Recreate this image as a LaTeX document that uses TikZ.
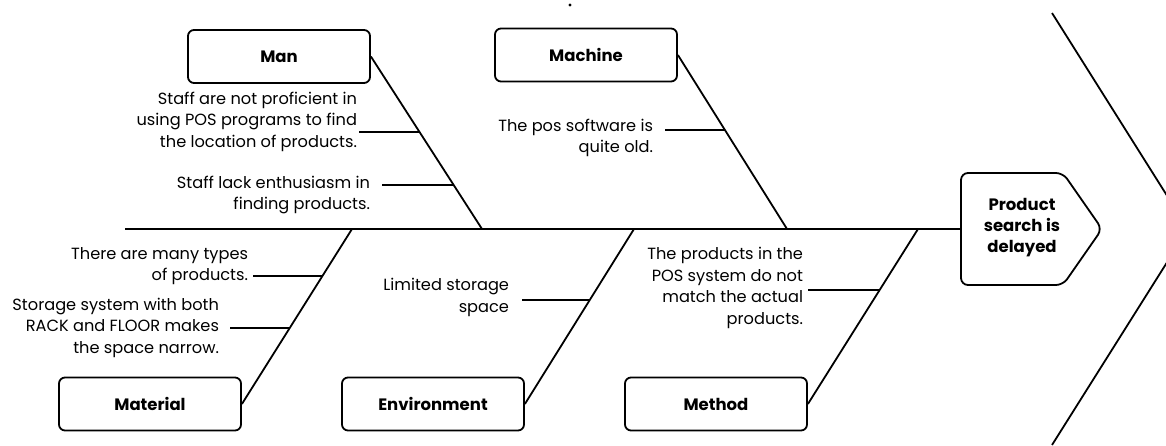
\documentclass[tikz,border=0pt]{standalone}
\usepackage{fontspec}
\setmainfont{Poppins}
\usetikzlibrary{calc, positioning}

\tikzset{
    bone/.style={line width=1.8pt},
    catbox/.style={draw, line width=1.8pt, rounded corners=6pt, minimum width=182pt, minimum height=53pt, font=\bfseries\fontsize{16.5}{20}\selectfont},
    cause/.style={align=right, anchor=east, inner sep=0pt, outer xsep=#1, font=\fontsize{16.2}{21.5}\selectfont},
    cause/.default=2pt
}

\begin{document}
\begin{tikzpicture}[x=1pt, y=-1pt]
    \useasboundingbox (0,0) rectangle (1166,446);
    \clip (0,0) rectangle (1166,446);

    \node[catbox] (man) at (279, 56.5) {Man};
    \node[catbox] (machine) at (586, 55) {Machine};
    \node[catbox] (material) at (150, 404) {Material};
    \node[catbox] (environment) at (433, 404) {Environment};
    \node[catbox] (method) at (716, 404) {Method};
    \node[align=center, font=\bfseries\fontsize{16.5}{21}\selectfont] (effect) at (1022, 228) {Product\\search is\\delayed};

    \coordinate (tail) at (125, 229);
    \coordinate (head) at (961, 229);
    \coordinate (manroot) at (482, 229);
    \coordinate (machineroot) at (787, 229);
    \coordinate (materialroot) at (352, 229);
    \coordinate (environmentroot) at (634, 229);
    \coordinate (methodroot) at (918, 229);

    \draw[line width=2pt] (tail) -- (head);
    \draw[bone, rounded corners=7pt]
    (head) -- (961, 173) -- (1063, 173) -- (1102, 229) -- (1063, 285) -- (961, 285) -- cycle;
    \draw[bone] (1052, 13) -- (1188, 229) -- (1052, 445);
    \fill (570, 5) circle (1.7pt);

    \foreach \b in {man, machine, material, environment, method} {
        \draw[bone] (\b.east) -- (\b root);
    }

    \coordinate (m1) at ($(man.east)!0.436!(manroot)$);
    \coordinate (m2) at ($(man.east)!0.744!(manroot)$);
    \coordinate (c1) at ($(machine.east)!0.431!(machineroot)$);
    \coordinate (t1) at ($(material.east)!0.731!(materialroot)$);
    \coordinate (t2) at ($(material.east)!0.434!(materialroot)$);
    \coordinate (e1) at ($(environment.east)!0.594!(environmentroot)$);
    \coordinate (d1) at ($(method.east)!0.651!(methodroot)$);

    \node[cause=2pt] (mantext1) at (359, 121.5) {Staff are not proficient in\\using POS programs to find\\the location of products.};
    \node[cause=12pt] (mantext2) at (382, 195) {Staff lack enthusiasm in\\finding products.};
    \node[cause=12pt] (machinetext1) at (665, 138) {The pos software is\\quite old.};
    \node[cause=5pt] (materialtext1) at (253, 266) {There are many types\\of products.};
    \node[cause=11pt] (materialtext2) at (230, 327.5) {Storage system with both\\RACK and FLOOR makes\\the space narrow.};
    \node[cause=13pt] (environmenttext1) at (522, 297.5) {Limited storage\\space};
    \node[cause=5pt] (methodtext1) at (808, 288) {The products in the\\POS system do not\\match the actual\\products.};

    \draw[bone]
    (mantext1.east |- m1) -- (m1)
    (mantext2.east |- m2) -- (m2)
    (machinetext1.east |- c1) -- (c1)
    (materialtext1.east |- t1) -- (t1)
    (materialtext2.east |- t2) -- (t2)
    (environmenttext1.east |- e1) -- (e1)
    (methodtext1.east |- d1) -- (d1);
\end{tikzpicture}
\end{document}
